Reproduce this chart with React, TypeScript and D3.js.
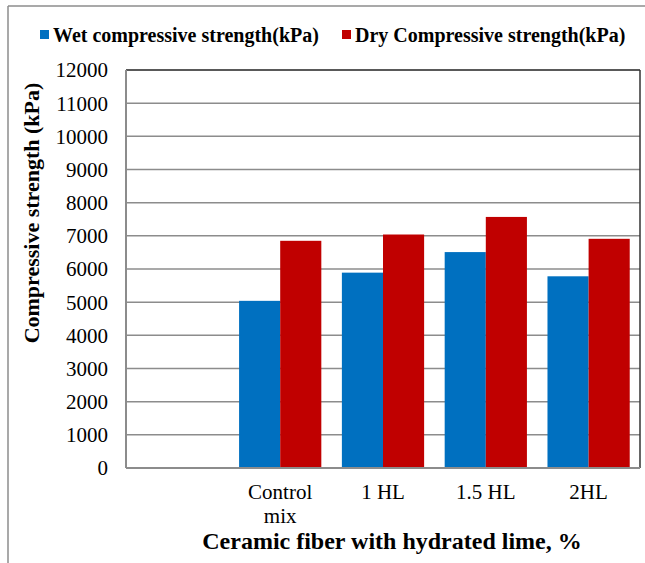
import React from "react";
import * as d3 from "d3";

const categories: string[] = ["", "Control mix", "1 HL", "1.5 HL", "2HL"];
const categoryLines: string[][] = [[], ["Control", "mix"], ["1 HL"], ["1.5 HL"], ["2HL"]];
const wetValues: (number | null)[] = [null, 5040, 5890, 6510, 5780];
const dryValues: (number | null)[] = [null, 6850, 7040, 7570, 6910];
const seriesNames: string[] = ["Wet compressive strength(kPa)", "Dry Compressive strength(kPa)"];
const seriesColors: string[] = ["#0070C0", "#C00000"];
const yTicks: number[] = [0, 1000, 2000, 3000, 4000, 5000, 6000, 7000, 8000, 9000, 10000, 11000, 12000];
const xTitle = "Ceramic fiber with hydrated lime, %";
const yTitle = "Compressive strength (kPa)";

const W = 645;
const H = 563;
const left = 126;
const right = 640;
const top = 70;
const bottom = 468;
const font = "Liberation Serif, Times New Roman, DejaVu Serif, serif";

export default function App() {
  const x = d3.scaleBand<string>().domain(categories).range([left, right]).paddingInner(0).paddingOuter(0);
  const y = d3.scaleLinear().domain([0, 12000]).range([bottom, top]);
  const bw = x.bandwidth();
  const barW = bw / 2.5;
  const inner = d3.scaleBand<number>().domain([0, 1]).range([0, barW * 2]);
  const series = [wetValues, dryValues];
  const txt = { fontFamily: font };

  return (
    <svg width={W} height={H} style={{ position: "absolute", left: 0, top: 0, background: "#fff", fontFamily: font }}>
      <rect x={0} y={0} width={W} height={H} fill="#fff" />
      {/* outer frame */}
      <line x1={8} y1={6} x2={W} y2={6} stroke="#8c8c8c" strokeWidth={1.5} />
      <line x1={8} y1={6} x2={8} y2={H} stroke="#8c8c8c" strokeWidth={1.5} />

      {/* legend */}
      <g style={txt} fontWeight="bold" fontSize={20}>
        <rect x={40} y={30} width={9} height={9} fill={seriesColors[0]} />
        <text x={53} y={42} style={txt}>{seriesNames[0]}</text>
        <rect x={342} y={30} width={9} height={9} fill={seriesColors[1]} />
        <text x={355} y={42} style={txt}>{seriesNames[1]}</text>
      </g>

      {/* gridlines */}
      {yTicks.map((t) => (
        <line key={t} x1={left} x2={right} y1={y(t)} y2={y(t)} stroke={t === 12000 ? "#222" : "#8c8c8c"} strokeWidth={1.5} />
      ))}
      <line x1={right} x2={right} y1={top} y2={bottom} stroke="#333" strokeWidth={1.5} />

      {/* bars */}
      {series.map((vals, si) =>
        vals.map((v, ci) =>
          v == null ? null : (
            <rect
              key={`${si}-${ci}`}
              x={(x(categories[ci]) as number) + (bw - barW * 2) / 2 + (inner(si) as number)}
              y={y(v)}
              width={inner.bandwidth()}
              height={bottom - y(v)}
              fill={seriesColors[si]}
            />
          )
        )
      )}

      {/* axes */}
      <line x1={left} x2={left} y1={top} y2={bottom} stroke="#8c8c8c" strokeWidth={2} />
      <line x1={left} x2={right} y1={bottom} y2={bottom} stroke="#8c8c8c" strokeWidth={2} />

      {/* y tick labels */}
      <g fontSize={21} textAnchor="end">
        {yTicks.map((t) => (
          <text key={t} x={108} y={y(t)} dy="0.35em" style={txt}>{t}</text>
        ))}
      </g>

      {/* x tick labels */}
      <g fontSize={21} textAnchor="middle">
        {categories.map((c, ci) =>
          categoryLines[ci].map((line, li) => (
            <text key={`${ci}-${li}`} x={(x(c) as number) + bw / 2} y={499 + li * 23.5} style={txt}>{line}</text>
          ))
        )}
      </g>

      {/* titles */}
      <text x={392} y={549} fontSize={24} fontWeight="bold" textAnchor="middle" style={txt}>{xTitle}</text>
      <text transform="translate(39,213) rotate(-90)" fontSize={22} fontWeight="bold" textAnchor="middle" style={txt}>{yTitle}</text>
    </svg>
  );
}
